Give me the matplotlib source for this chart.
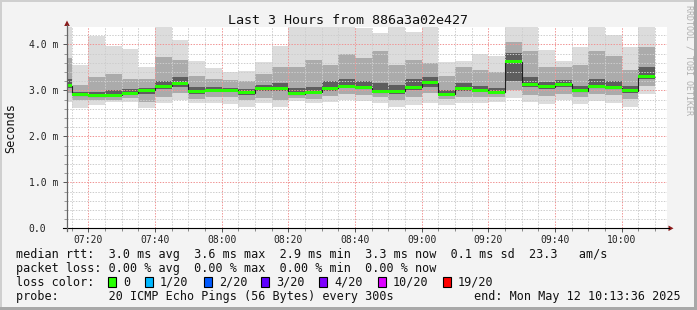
import numpy as np
import pandas as pd
import matplotlib.pyplot as plt
from matplotlib.ticker import MultipleLocator
from matplotlib.patches import Rectangle, Polygon
from matplotlib.lines import Line2D

# column end times (5 min steps) and visible window
t_end = pd.date_range("2025-05-12 07:15", "2025-05-12 10:10", freq="5min")
view_start = "07:13:36"
view_end = "10:13:36"

# smoke quantiles per column, in ms
lo = [2.75, 2.61, 2.67, 2.75, 2.75, 2.62, 2.73, 2.79, 2.72, 2.72,
      2.70, 2.64, 2.72, 2.63, 2.77, 2.72, 2.75, 2.79, 2.76, 2.72,
      2.64, 2.68, 2.72, 2.68, 2.72, 2.73, 2.75, 2.83, 2.75, 2.70,
      2.79, 2.70, 2.77, 2.73, 2.64, 2.93]
p20 = [2.95, 2.80, 2.78, 2.80, 2.83, 2.75, 2.85, 2.95, 2.82, 2.85,
       2.85, 2.78, 2.84, 2.80, 2.84, 2.82, 2.88, 2.92, 2.90, 2.85,
       2.80, 2.85, 2.95, 2.82, 2.85, 2.85, 2.85, 3.00, 2.90, 2.88,
       2.92, 2.85, 2.92, 2.90, 2.82, 3.10]
p40 = [3.05, 2.87, 2.86, 2.87, 2.91, 2.93, 3.03, 3.08, 2.93, 2.96,
       2.97, 2.90, 2.98, 2.98, 2.90, 2.92, 2.99, 3.04, 3.02, 2.94,
       2.93, 3.01, 3.08, 2.88, 2.98, 2.96, 2.93, 3.20, 3.08, 3.03,
       3.08, 2.96, 3.04, 3.02, 2.95, 3.25]
median = [3.10, 2.90, 2.88, 2.89, 2.94, 3.00, 3.09, 3.14, 2.98, 3.00,
          3.00, 2.95, 3.04, 3.04, 2.93, 2.96, 3.04, 3.09, 3.06, 2.97,
          2.98, 3.07, 3.16, 2.91, 3.03, 3.00, 2.96, 3.62, 3.13, 3.08,
          3.13, 2.99, 3.08, 3.06, 2.99, 3.30]
p60 = [3.25, 2.96, 2.97, 3.00, 3.02, 3.06, 3.20, 3.30, 3.08, 3.08,
       3.06, 3.03, 3.12, 3.15, 3.05, 3.08, 3.20, 3.25, 3.20, 3.15,
       3.12, 3.25, 3.30, 3.00, 3.15, 3.10, 3.05, 3.80, 3.30, 3.18,
       3.22, 3.10, 3.25, 3.20, 3.10, 3.50]
p80 = [3.70, 3.12, 3.30, 3.35, 3.25, 3.25, 3.72, 3.65, 3.30, 3.25,
       3.22, 3.20, 3.35, 3.50, 3.50, 3.65, 3.55, 3.80, 3.70, 3.85,
       3.55, 3.65, 3.60, 3.30, 3.50, 3.45, 3.40, 4.05, 3.85, 3.50,
       3.50, 3.55, 3.85, 3.75, 3.45, 3.95]
hi = [4.40, 3.55, 4.19, 3.97, 3.90, 3.51, 4.40, 4.09, 3.64, 3.49,
      3.39, 3.42, 3.62, 3.97, 4.40, 4.40, 4.40, 4.40, 4.35, 4.24,
      4.40, 4.27, 4.40, 3.61, 3.64, 3.78, 3.75, 4.40, 4.40, 3.87,
      3.64, 3.95, 4.40, 4.20, 3.95, 4.40]

xtick_labels = ["07:20", "07:40", "08:00", "08:20", "08:40", "09:00", "09:20", "09:40", "10:00"]
ytick_vals = [0, 1, 2, 3, 4]
ytick_labels = ["0.0", "1.0 m", "2.0 m", "3.0 m", "4.0 m"]

legend_rows = [
    "median rtt:  3.0 ms avg  3.6 ms max  2.9 ms min  3.3 ms now  0.1 ms sd  23.3   am/s",
    "packet loss: 0.00 % avg  0.00 % max  0.00 % min  0.00 % now",
    "loss color:",
    "probe:       20 ICMP Echo Pings (56 Bytes) every 300s",
]
loss_labels = ["0", "1/20", "2/20", "3/20", "4/20", "10/20", "19/20"]
loss_colors = ["#26ff00", "#00b8ff", "#0059ff", "#5e00ff", "#7e00ff", "#dd00ff", "#ff0000"]
end_text = "end: Mon May 12 10:13:36 2025"


def to_min(s):
    parts = [float(p) for p in s.split(":")]
    return parts[0] * 60 + parts[1] + (parts[2] / 60 if len(parts) > 2 else 0)


W, H = 697, 310
mono = "DejaVu Sans Mono"


def fx(x):
    return x / W


def fy(y):
    return 1 - y / H


x_end = np.array(t_end.hour * 60 + t_end.minute, dtype=float)
x_start = x_end - 5
lo, p20, p40, median, p60, p80, hi = map(np.array, (lo, p20, p40, median, p60, p80, hi))

fig = plt.figure(figsize=(W / 100, H / 100), dpi=100, facecolor="#f3f3f3")
left, right, top, bottom = 67, 667, 27, 228.3
ax = fig.add_axes([fx(left), fy(bottom), (right - left) / W, (bottom - top) / H])
ax.set_facecolor("white")

# smoke
ax.bar(x_start, hi - lo, bottom=lo, width=5, align="edge", color="#dcdcdc", linewidth=0, zorder=1)
ax.bar(x_start, p80 - p20, bottom=p20, width=5, align="edge", color="#ababab", linewidth=0, zorder=1.1)
ax.bar(x_start, p60 - p40, bottom=p40, width=5, align="edge", color="#5e5e5e", linewidth=0, zorder=1.2)

# median
edges = np.r_[x_start[0], x_end]
ax.stairs(median, edges, baseline=None, color="#202020", linewidth=0.8, zorder=3)
ax.bar(x_start, 0.066, bottom=median - 0.033, width=5, align="edge", color=loss_colors[0],
       linewidth=0, zorder=3.5)

ax.set_xlim(to_min(view_start), to_min(view_end))
ax.set_ylim(0, (bottom - top) / 46.0)

ax.set_xticks([to_min(t) for t in xtick_labels])
ax.set_xticklabels(xtick_labels)
ax.xaxis.set_minor_locator(MultipleLocator(5))
ax.set_yticks(ytick_vals)
ax.set_yticklabels(ytick_labels)
ax.yaxis.set_minor_locator(MultipleLocator(0.2))

ax.grid(which="minor", color="#cdcdcd", linestyle=(0, (1.4, 1.4)), linewidth=0.72, zorder=2)
ax.grid(which="major", color="#f09595", linestyle=(0, (1.4, 1.4)), linewidth=0.72, zorder=2)
ax.set_axisbelow(False)

ax.tick_params(axis="x", which="major", length=3, width=0.7, color="#555555", pad=2,
               labelsize=7, labelcolor="#222222")
ax.tick_params(axis="x", which="minor", length=2, width=0.7, color="#888888")
ax.tick_params(axis="y", which="major", length=3, width=0.7, color="#555555", pad=24.5,
               labelsize=7, labelcolor="#222222")
ax.tick_params(axis="y", which="minor", length=2, width=0.7, color="#999999")
for lab in ax.get_xticklabels() + ax.get_yticklabels():
    lab.set_fontfamily(mono)
for lab in ax.get_yticklabels():
    lab.set_ha("left")

for s in ax.spines.values():
    s.set_visible(False)

# axis lines with arrows
fig.add_artist(Line2D([fx(63), fx(669)], [fy(bottom), fy(bottom)], color="black", lw=0.8))
fig.add_artist(Line2D([fx(left), fx(left)], [fy(231), fy(25)], color="#666666", lw=0.9))
fig.add_artist(Polygon([[fx(673.5), fy(bottom)], [fx(668.5), fy(bottom - 2.8)], [fx(668.5), fy(bottom + 2.8)]],
                       closed=True, color="#8b1a1a", lw=0))
fig.add_artist(Polygon([[fx(left), fy(20.5)], [fx(left - 2.8), fy(26)], [fx(left + 2.8), fy(26)]],
                       closed=True, color="#8b1a1a", lw=0))

# texts
fig.text(fx(348), fy(20), "Last 3 Hours from 886a3a02e427", ha="center", va="center",
         family=mono, fontsize=9.6, color="#111111")
fig.text(fx(11), fy(127.7), "Seconds", ha="center", va="center", rotation=90,
         family=mono, fontsize=8.5, color="#111111")
fig.text(fx(688.5), fy(60), "RRDTOOL / TOBI OETIKER", ha="center", va="center", rotation=270,
         family=mono, fontsize=6, color="#b0b0b0")

row_y = [254.3, 268.3, 282.3, 296.3]
for txt, yy in zip(legend_rows, row_y):
    fig.text(fx(16.4), fy(yy), txt, ha="left", va="center", family=mono, fontsize=8.5, color="#111111")
fig.text(fx(681), fy(row_y[3]), end_text, ha="right", va="center", family=mono, fontsize=8.5, color="#111111")

box_x = [108, 145, 203.7, 261, 319, 377.7, 442.7]
for bx, lab, col in zip(box_x, loss_labels, loss_colors):
    fig.add_artist(Rectangle((fx(bx), fy(row_y[2] + 5)), 8 / W, 10 / H, facecolor=col,
                             edgecolor="black", lw=0.8))
    fig.text(fx(bx + 15), fy(row_y[2]), lab, ha="left", va="center", family=mono, fontsize=8.5,
             color="#111111")

# 3d border
fig.add_artist(Rectangle((0, 1 - 2 / H), 1, 2 / H, facecolor="#cfcfcf", lw=0))
fig.add_artist(Rectangle((0, 0), 2 / W, 1, facecolor="#cfcfcf", lw=0))
fig.add_artist(Rectangle((1 - 3 / W, 0), 3 / W, 1, facecolor="#a8a8a8", lw=0))
fig.add_artist(Rectangle((0, 0), 1, 3 / H, facecolor="#a8a8a8", lw=0))

fig.savefig("out.png", dpi=100, facecolor=fig.get_facecolor())
